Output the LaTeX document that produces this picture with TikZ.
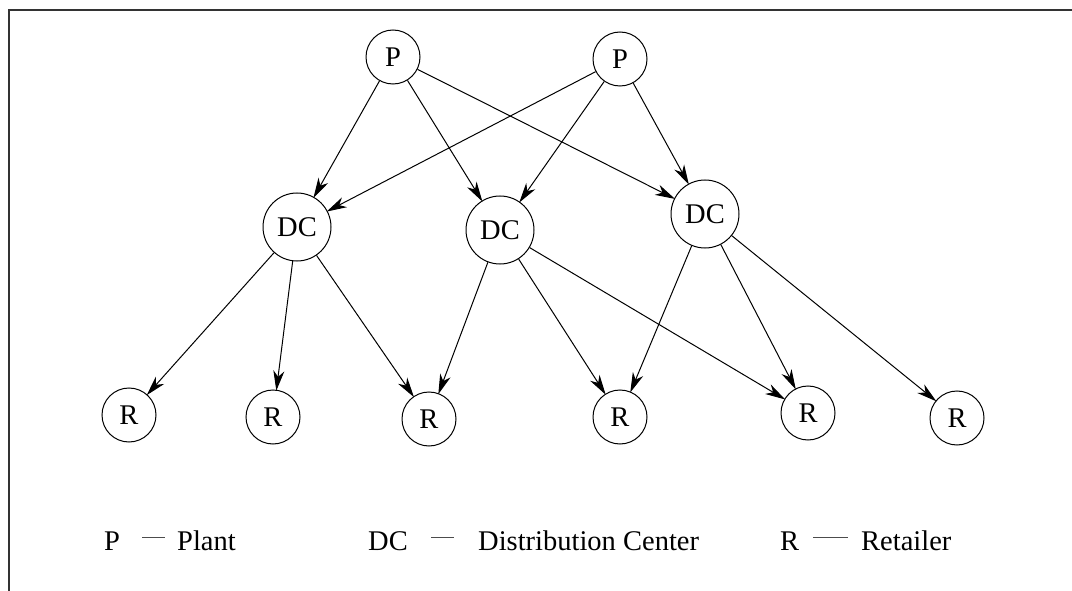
\documentclass[tikz,border=0pt]{standalone}
\usepackage{fontspec}
\setmainfont{Liberation Serif}
\usetikzlibrary{arrows.meta}
\begin{document}
\begin{tikzpicture}[x=1pt,y=-1pt,
  nd/.style={draw,circle,line width=1pt,inner sep=0pt,font=\fontsize{28.5}{32}\selectfont},
  pn/.style={nd,minimum size=54pt},
  dcn/.style={nd,minimum size=68pt},
  rn/.style={nd,minimum size=54pt},
  edge/.style={line width=1pt,-{Stealth[length=20pt,width=11pt,inset=6pt]},shorten >=-1pt},
  lbl/.style={font=\fontsize{28.5}{32}\selectfont,inner sep=0pt,anchor=base west},
  frame/.style={line width=1.5pt,draw=black!80}]
\useasboundingbox (0,0) rectangle (1072,591);
\draw[frame] (9,591) -- (9,10) -- (1072,10);
\node[pn] (p1) at (393,57) {P};
\node[pn] (p2) at (620,59) {P};
\node[dcn] (dc1) at (297,227) {DC};
\node[dcn] (dc2) at (500,230) {DC};
\node[dcn] (dc3) at (705,214) {DC};
\node[rn] (r1) at (129,415) {R};
\node[rn] (r2) at (273,417) {R};
\node[rn] (r3) at (429,419) {R};
\node[rn] (r4) at (620,417) {R};
\node[rn] (r5) at (808,413) {R};
\node[rn] (r6) at (957,418) {R};
\foreach \a/\b in {p1/dc1,p1/dc2,p1/dc3,p2/dc1,p2/dc2,p2/dc3,
  dc1/r1,dc1/r2,dc1/r3,dc2/r3,dc2/r4,dc2/r5,dc3/r4,dc3/r5,dc3/r6}
  \draw[edge] (\a) -- (\b);
% legend
\node[lbl] (lp) at (104,550) {P};
\coordinate (lpa) at (142,537); \coordinate (lpb) at (165,537);
\draw[line width=1pt,black!70] (lpa) -- (lpb);
\node[lbl] (lplant) at (177,550) {Plant};
\node[lbl] (ldc) at (368,550) {DC};
\coordinate (lda) at (431,537); \coordinate (ldb) at (454,537);
\draw[line width=1pt,black!70] (lda) -- (ldb);
\node[lbl] (ldist) at (478,550) {Distribution Center};
\node[lbl] (lr) at (780,550) {R};
\coordinate (lra) at (813,537); \coordinate (lrb) at (848,537);
\draw[line width=1pt,black!70] (lra) -- (lrb);
\node[lbl] (lret) at (861,550) {Retailer};
\end{tikzpicture}
\end{document}
